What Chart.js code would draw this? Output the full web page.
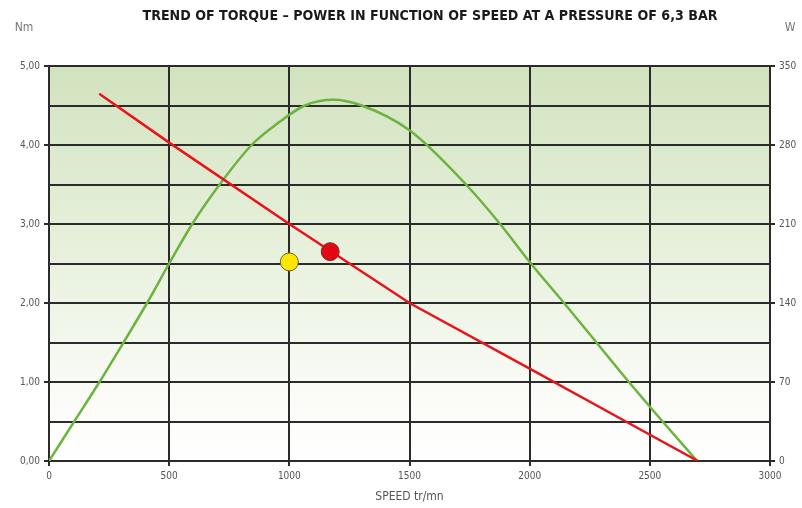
<!DOCTYPE html>
<html>
<head>
<meta charset="utf-8">
<script src="https://cdn.jsdelivr.net/npm/chart.js@4"></script>
<style>
  html, body { margin: 0; padding: 0; background: #fff; }
  #wrap { width: 802px; height: 508px; }
</style>
</head>
<body>
<div id="wrap"><canvas id="chart"></canvas></div>
<script>
// torque line (Nm, left axis)
const torqueSpeed = [209, 500, 1000, 1500, 2000, 2400, 2700];
const torqueValues = [4.65, 4.03, 3.0, 2.0, 1.17, 0.5, 0];

// power curve (W, right axis)
const powerSpeed = [0, 105, 210, 310, 408, 500, 596, 710, 843, 950, 1065, 1182, 1301, 1500, 1735, 1877, 2005, 2143, 2278, 2413, 2553, 2697];
const powerValues = [0, 35, 70, 105, 140, 175, 210, 245, 280, 299, 315, 320, 315, 293, 245, 210, 175, 140, 105, 70, 35, 0];

// marked points
const redPoint = [1170, 2.65];
const yellowPoint = [1000, 2.52];

// tick labels
const speedLabels = ['0', '500', '1000', '1500', '2000', '2500', '3000'];
const torqueLabels = ['0,00', '1,00', '2,00', '3,00', '4,00', '5,00'];
const powerLabels = ['0', '70', '140', '210', '280', '350'];

const gridColor = '#2b2b2b';
const narrow = '"Liberation Sans Narrow", "DejaVu Sans Condensed", Arial, sans-serif';
const tickFont = { family: narrow, size: 10 };

function isWhole(v) { return Math.abs(v - Math.round(v)) < 1e-6; }

const bgPlugin = {
    id: 'bg',
    beforeDraw(chart) {
        const { ctx, chartArea: a } = chart;
        const g = ctx.createLinearGradient(0, a.top, 0, a.bottom);
        g.addColorStop(0, '#d2e3bf');
        g.addColorStop(0.45, '#e6f0db');
        g.addColorStop(0.85, '#fbfcf8');
        g.addColorStop(1, '#ffffff');
        ctx.save();
        ctx.fillStyle = g;
        ctx.fillRect(a.left, a.top, a.right - a.left, a.bottom - a.top);
        ctx.restore();
    }
};

const textPlugin = {
    id: 'texts',
    afterDraw(chart) {
        const ctx = chart.ctx;
        ctx.save();
        ctx.fillStyle = '#1a1a1a';
        ctx.font = 'bold 13.5px ' + narrow;
        ctx.textAlign = 'center';
        ctx.textBaseline = 'middle';
        const title = 'TREND OF TORQUE – POWER IN FUNCTION OF SPEED AT A PRESSURE OF 6,3 BAR';
        // squeeze the title to the condensed width of the original
        const w = ctx.measureText(title).width;
        const target = 575;
        ctx.translate(430, 16);
        ctx.scale(target / w, 1);
        ctx.fillText(title, 0, 0);
        ctx.restore();

        ctx.save();
        ctx.fillStyle = '#777';
        ctx.font = '12px ' + narrow;
        ctx.textAlign = 'center';
        ctx.textBaseline = 'middle';
        ctx.fillText('Nm', 24, 28);
        ctx.fillText('W', 790, 28);
        ctx.restore();
    }
};

new Chart(document.getElementById('chart'), {
    type: 'scatter',
    data: {
        datasets: [
            {
                label: 'red point',
                data: [{ x: redPoint[0], y: redPoint[1] }],
                yAxisID: 'y',
                pointRadius: 9,
                backgroundColor: '#e30613',
                borderColor: '#6e3b2a',
                borderWidth: 1
            },
            {
                label: 'yellow point',
                data: [{ x: yellowPoint[0], y: yellowPoint[1] }],
                yAxisID: 'y',
                pointRadius: 9,
                backgroundColor: '#ffe500',
                borderColor: '#6b6230',
                borderWidth: 1
            },
            {
                label: 'Torque',
                data: torqueSpeed.map((s, i) => ({ x: s, y: torqueValues[i] })),
                yAxisID: 'y',
                showLine: true,
                borderColor: '#e8141c',
                borderWidth: 2.5,
                pointRadius: 0
            },
            {
                label: 'Power',
                data: powerSpeed.map((s, i) => ({ x: s, y: powerValues[i] })),
                yAxisID: 'yW',
                showLine: true,
                cubicInterpolationMode: 'monotone',
                borderColor: '#6db33f',
                borderWidth: 2.5,
                pointRadius: 0
            }
        ]
    },
    options: {
        responsive: true,
        maintainAspectRatio: false,
        animation: false,
        layout: { padding: { top: 66, left: 0, right: 0, bottom: 0 } },
        plugins: {
            legend: { display: false },
            tooltip: { enabled: false }
        },
        scales: {
            x: {
                type: 'linear',
                min: 0,
                max: 3000,
                afterFit(s) { s.height = 47; },
                ticks: {
                    stepSize: 500,
                    color: '#555',
                    font: tickFont,
                    padding: 4,
                    maxRotation: 0,
                    callback: v => speedLabels[v / 500]
                },
                grid: { color: gridColor, lineWidth: 2, tickLength: 5, tickColor: gridColor },
                border: { color: gridColor, width: 2 },
                title: {
                    display: true,
                    text: 'SPEED tr/mn',
                    color: '#555',
                    font: { family: narrow, size: 12 },
                    padding: { top: 2 }
                }
            },
            y: {
                position: 'left',
                min: 0,
                max: 5,
                afterFit(s) { s.width = 49; },
                ticks: {
                    stepSize: 0.5,
                    color: '#555',
                    font: tickFont,
                    padding: 4,
                    callback: v => isWhole(v) ? torqueLabels[Math.round(v)] : ''
                },
                grid: {
                    color: gridColor,
                    lineWidth: 2,
                    tickLength: 5,
                    tickColor: c => isWhole(c.tick.value) ? gridColor : 'rgba(0,0,0,0)'
                },
                border: { color: gridColor, width: 2 }
            },
            yW: {
                position: 'right',
                min: 0,
                max: 350,
                afterFit(s) { s.width = 32; },
                ticks: {
                    stepSize: 35,
                    color: '#555',
                    font: tickFont,
                    padding: 4,
                    callback: v => (v % 70 === 0) ? powerLabels[v / 70] : ''
                },
                grid: {
                    drawOnChartArea: false,
                    lineWidth: 2,
                    tickLength: 5,
                    tickColor: c => (c.tick.value % 70 === 0) ? gridColor : 'rgba(0,0,0,0)'
                },
                border: { color: gridColor, width: 2 }
            }
        }
    },
    plugins: [bgPlugin, textPlugin]
});
</script>
</body>
</html>
